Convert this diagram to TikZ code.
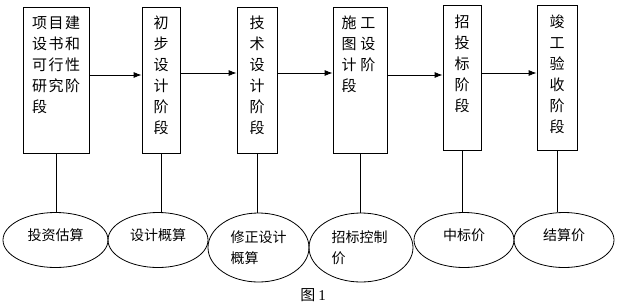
\documentclass[tikz,border=0pt]{standalone}
\usepackage{fontspec}
\setmainfont{Liberation Serif}
\newfontfamily\cjk{Noto Sans CJK SC}
\usetikzlibrary{shapes.geometric,arrows.meta}
\begin{document}
\begin{tikzpicture}[x=1pt,y=-1pt,
  box/.style={draw,line width=0.8pt,inner sep=0pt,minimum height=146pt},
  btext/.style={font=\cjk\fontsize{15}{21}\selectfont,inner sep=0pt,anchor=north,align=center},
  ell/.style={draw,ellipse,line width=0.8pt,inner sep=0pt},
  etext/.style={font=\cjk\fontsize{14}{21}\selectfont,inner sep=0pt,align=left},
  ln/.style={line width=0.8pt},
  arr/.style={line width=0.8pt,-{Latex[length=8pt,width=6pt]}}]
\useasboundingbox (0,0) rectangle (619,306);
% stage boxes
\node[box,minimum width=66pt] (b1) at (56,80) {};
\node[box,minimum width=38pt] (b2) at (161,80) {};
\node[box,minimum width=40pt] (b3) at (257,80) {};
\node[box,minimum width=54pt] (b4) at (360,80) {};
\node[box,minimum width=38pt,minimum height=145pt] (b5) at (462,77.5) {};
\node[box,minimum width=40pt,minimum height=145pt] (b6) at (557,77.5) {};
% box texts
\node[btext,align=left] (t1) at ([yshift=-9pt]b1.north) {项\kern1.5pt目\kern1.5pt建\\设\kern1.5pt书\kern1.5pt和\\可\kern1.5pt行\kern1.5pt性\\研\kern1.5pt究\kern1.5pt阶\\段};
\node[btext] (t2) at ([yshift=-9pt]b2.north) {初\\步\\设\\计\\阶\\段};
\node[btext] (t3) at ([yshift=-9pt]b3.north) {技\\术\\设\\计\\阶\\段};
\node[btext,align=left] (t4) at ([yshift=-9pt,xshift=-1.5pt]b4.north) {施\kern4pt工\\图\kern4pt设\\计\kern4pt阶\\段};
\node[btext] (t5) at ([yshift=-10pt]b5.north) {招\\投\\标\\阶\\段};
\node[btext] (t6) at ([yshift=-10pt]b6.north) {竣\\工\\验\\收\\阶\\段};
% arrows
\draw[arr] (b1.east |- 0,75) -- (b2.west |- 0,75);
\draw[arr] (b2.east |- 0,73) -- (b3.west |- 0,73);
\draw[arr] (b3.east |- 0,73) -- (b4.west |- 0,73);
\draw[arr] (b4.east |- 0,75) -- (b5.west |- 0,75);
\draw[arr] (b5.east |- 0,73) -- (b6.west |- 0,73);
% ellipses
\node[ell,minimum width=105pt,minimum height=55pt] (e1) at (55.5,240) {};
\node[ell,minimum width=100pt,minimum height=55pt] (e2) at (158,240) {};
\node[ell,minimum width=101pt,minimum height=69pt] (e3) at (258.5,247.5) {};
\node[ell,minimum width=104pt,minimum height=69pt] (e4) at (361,247.5) {};
\node[ell,minimum width=100pt,minimum height=55pt] (e5) at (464,240) {};
\node[ell,minimum width=100pt,minimum height=55pt] (e6) at (564,240) {};
% ellipse texts
\node[etext] (l1) at ([yshift=5pt]e1.center) {投资估算};
\node[etext] (l2) at ([yshift=5pt]e2.center) {设计概算};
\node[etext] (l3) at (e3.center) {修正设计\\概算};
\node[etext] (l4) at ([xshift=-1.5pt]e4.center) {招标控制\\价};
\node[etext] (l5) at ([yshift=5pt]e5.center) {中标价};
\node[etext] (l6) at ([yshift=5pt]e6.center) {结算价};
% links
\draw[ln] (b1.south) -- (b1.south |- e1.north);
\draw[ln] (b2.south) -- (b2.south |- e2.north);
\draw[ln] (b3.south) -- (b3.south |- e3.north);
\draw[ln] (b4.south) -- (b4.south |- e4.north);
\draw[ln] (b5.south) -- (b5.south |- e5.north);
\draw[ln] (b6.south) -- (b6.south |- e6.north);
% caption
\node[inner sep=0pt,font=\fontsize{15}{18}\selectfont] (cap) at (313,295) {{\cjk 图}\kern3pt 1};
\end{tikzpicture}
\end{document}
